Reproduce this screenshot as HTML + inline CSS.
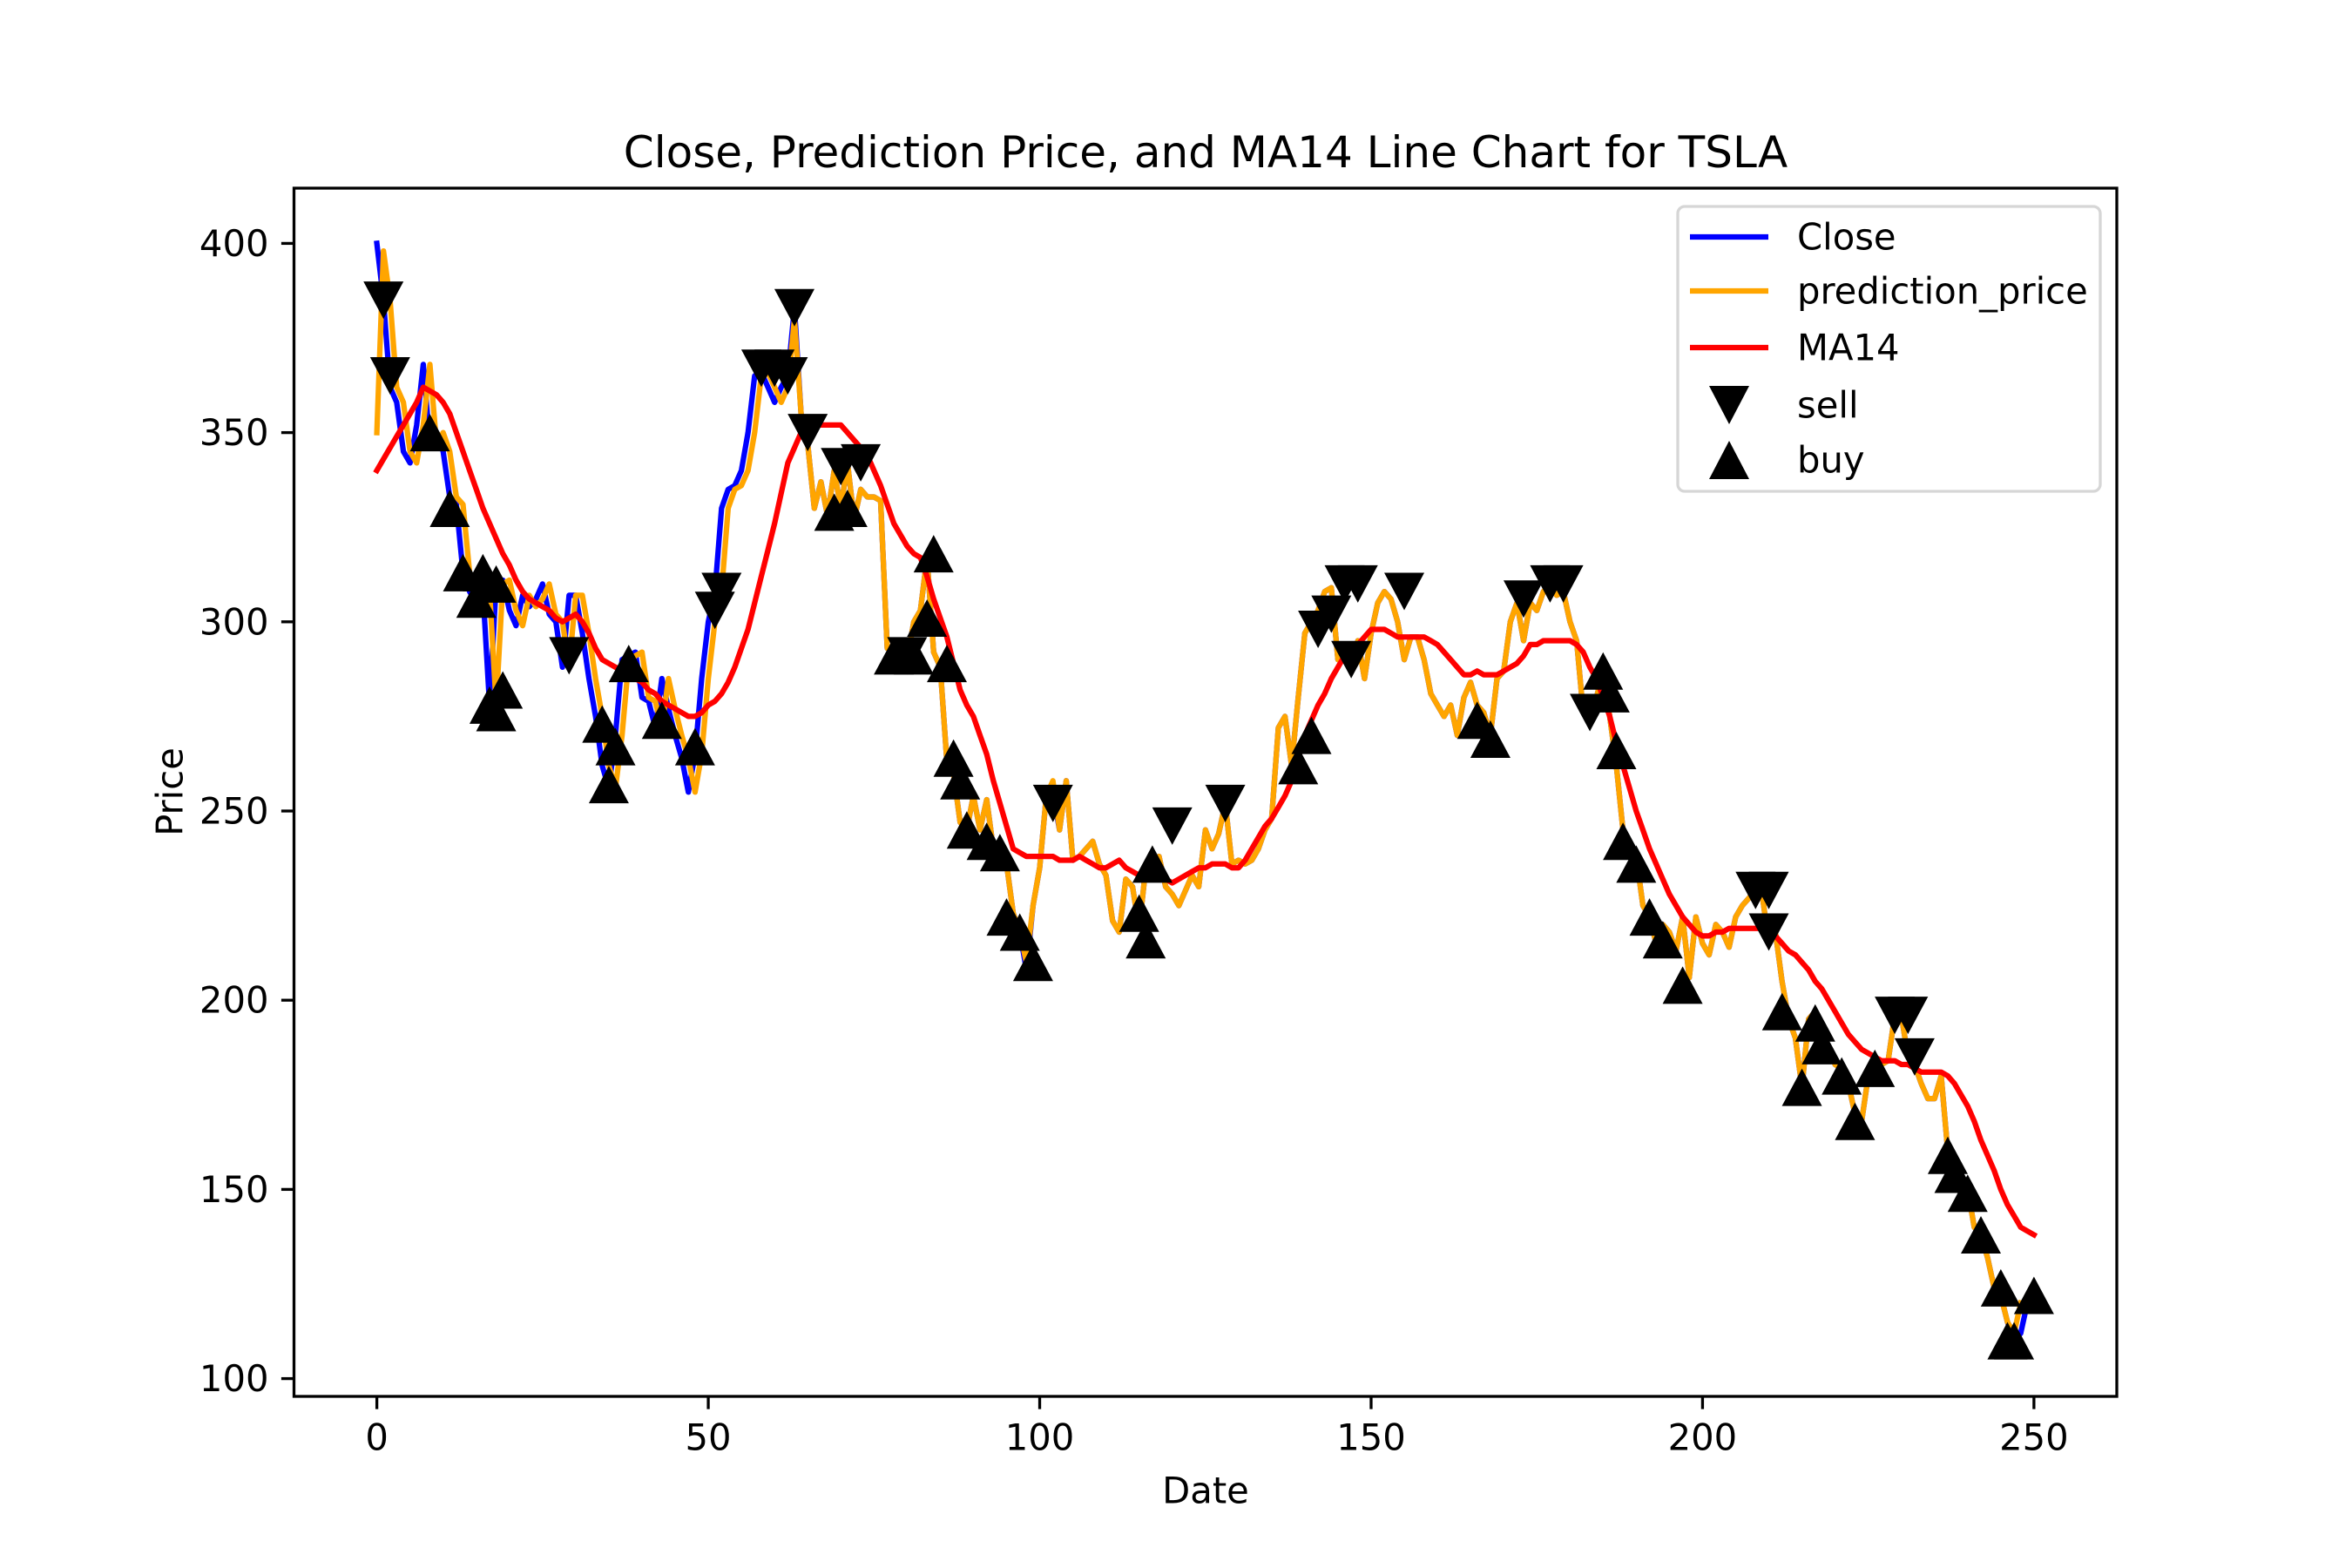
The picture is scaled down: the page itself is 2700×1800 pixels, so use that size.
<!DOCTYPE html>
<html><head><meta charset="utf-8"><style>
html,body{margin:0;padding:0;background:#fff;}
svg{display:block;font-family:"DejaVu Sans","Liberation Sans",sans-serif;}
</style></head><body>
<svg id="chart" width="2700" height="1800" viewBox="0 0 2700 1800">
<rect width="2700" height="1800" fill="#fff"/>
<text x="1384" y="175" font-size="50" text-anchor="middle" dominant-baseline="central">Close, Prediction Price, and MA14 Line Chart for TSLA</text>
<text x="1384" y="1711" font-size="41.7" text-anchor="middle" dominant-baseline="central">Date</text>
<text x="195" y="909" font-size="41.7" text-anchor="middle" dominant-baseline="central" transform="rotate(-90 195 909)">Price</text>
<g id="plot"></g>
<g id="legend">
<rect x="1926" y="237" width="485" height="327" rx="8" fill="#fff" fill-opacity="0.8" stroke="#d6d6d6" stroke-width="3.3"/>
<line x1="1940" y1="272" x2="2030" y2="272" stroke="#0000ff" stroke-width="6.25"/>
<text x="2063" y="272" font-size="41.7" dominant-baseline="central">Close</text>
<line x1="1940" y1="334" x2="2030" y2="334" stroke="#ffa500" stroke-width="6.25"/>
<text x="2063" y="334" font-size="41.7" dominant-baseline="central">prediction_price</text>
<line x1="1940" y1="399" x2="2030" y2="399" stroke="#ff0000" stroke-width="6.25"/>
<text x="2063" y="399" font-size="41.7" dominant-baseline="central">MA14</text>
<polygon points="1962,443 2008,443 1985,487" fill="#000"/>
<text x="2063" y="465" font-size="41.7" dominant-baseline="central">sell</text>
<polygon points="1962,550 2008,550 1985,506" fill="#000"/>
<text x="2063" y="528" font-size="41.7" dominant-baseline="central">buy</text>
</g>
</svg>
<script>
const closePrices = [400,385,362,358,345,342,352,368,347,350,345,333,331,313,308,305,308,278,310,311,303,299,307,304,306,310,302,300,288,307,307,297,285,275,262,256,270,290,291,292,280,279,272,285,277,270,264,255,265,285,300,308,330,335,336,340,350,365,366,362,358,362,365,383,355,347,330,337,328,340,330,342,327,335,333,333,332,293,293,292,290,300,303,317,292,288,263,260,247,245,254,245,253,240,236,236,223,218,208,225,235,254,255,245,258,237,238,240,242,236,233,221,218,232,230,219,235,237,238,230,228,225,229,233,230,245,240,244,252,236,237,236,237,240,245,248,272,275,262,280,297,300,303,308,309,290,293,287,295,285,297,305,308,306,300,290,296,296,290,281,278,275,278,270,280,284,278,276,270,285,287,300,305,295,305,303,308,310,307,308,300,295,276,276,280,287,275,262,245,240,238,225,222,215,220,218,213,222,206,222,215,212,220,218,214,222,225,227,229,228,215,218,205,195,190,177,195,197,190,188,183,182,178,170,168,180,183,183,184,196,196,185,183,178,174,174,180,160,155,150,150,140,138,132,124,122,115,110,112,120,122];
const predictionPrices = [350,398,385,362,358,345,342,352,368,347,350,345,333,331,313,308,305,308,278,310,311,303,299,307,304,306,310,302,300,288,307,307,297,285,275,262,256,270,290,291,292,280,279,272,285,277,270,264,255,265,285,300,308,330,335,336,340,350,365,366,362,358,362,380,355,347,330,337,328,340,330,342,327,335,333,333,332,293,293,292,290,300,303,317,292,288,263,260,247,245,254,245,253,240,236,236,223,218,210,225,235,254,258,245,258,237,238,240,242,236,233,221,218,232,230,219,235,237,238,230,228,225,229,233,230,245,240,244,252,236,237,236,237,240,245,248,272,275,262,280,297,300,303,308,309,290,293,287,295,285,297,305,308,306,300,290,296,296,290,281,278,275,278,270,280,284,278,276,270,285,287,300,305,295,305,303,308,310,307,308,300,295,276,276,280,287,275,262,245,240,238,225,222,215,220,218,213,222,206,222,215,212,220,218,214,222,225,227,229,228,215,218,205,195,190,177,195,197,190,188,183,182,178,170,168,180,183,183,184,196,196,185,183,178,174,174,180,160,155,150,150,140,138,132,124,122,115,112,120];
const ma14 = [340,343,346,349,352,355,358,362,361,360,358,355,350,345,340,335,330,326,322,318,315,311,308,306,305,304,303,301,300,301,302,300,297,293,290,289,288,287,286,285,284,282,281,279,278,277,276,275,275,276,278,279,281,284,288,293,298,305,312,319,326,334,342,346,350,351,352,352,352,352,352,350,348,346,344,340,336,331,326,323,320,318,317,312,306,301,296,289,282,278,275,270,265,258,252,246,240,239,238,238,238,238,238,237,237,237,238,237,236,235,235,236,237,235,234,233,232,232,233,232,231,232,233,234,235,235,236,236,236,235,235,237,240,243,246,248,251,254,258,264,270,274,278,281,285,288,291,292,294,296,298,298,298,297,296,296,296,296,296,295,294,292,290,288,286,286,287,286,286,286,287,288,289,291,294,294,295,295,295,295,295,294,292,288,285,280,275,268,262,256,250,245,240,236,232,228,225,222,220,218,217,217,218,218,219,219,219,219,219,219,219,217,215,213,212,210,208,205,203,200,197,194,191,189,187,186,185,184,184,184,183,183,182,181,181,181,181,180,178,175,172,168,163,159,155,150,146,143,140,139,138];
const sellIdx = [1,2,29,51,52,58,60,62,63,65,70,73,80,102,120,128,142,144,146,147,148,155,173,177,179,183,208,210,210,229,231,232];
const sellVals = [385,365,291,303,308,367,367,365,383,350,341,342,291,252,246,252,298,302,310,290,310,308,306,310,310,276,229,229,218,196,196,185];
const buyIdx = [8,11,13,15,16,17,18,18,19,34,35,36,38,43,48,69,71,78,81,83,84,86,87,88,89,92,94,95,97,99,115,116,117,139,141,166,168,185,186,187,188,190,192,194,197,212,215,217,218,221,223,226,237,238,240,242,245,246,247,250];
const buyVals = [350,330,313,306,313,278,276,310,282,273,257,267,289,274,267,329,330,291,291,301,318,289,264,258,245,242,239,222,218,210,223,216,236,262,270,274,269,287,281,266,242,236,222,216,204,197,177,194,188,180,168,182,159,154,149,138,124,110,110,122];
const xTicks = [0,50,100,150,200,250];
const yTicks = [100,150,200,250,300,350,400];

const AX = {left:337.5, right:2430, top:216, bottom:1603};
const XMIN = -12.5, XMAX = 262.5, YMIN = 95.3, YMAX = 414.6;
function xs(v){ return AX.left + (v - XMIN) / (XMAX - XMIN) * (AX.right - AX.left); }
function ys(v){ return AX.bottom - (v - YMIN) / (YMAX - YMIN) * (AX.bottom - AX.top); }
const NS = 'http://www.w3.org/2000/svg';
const plot = document.getElementById('plot');
function mk(tag, attrs, parent){ const e = document.createElementNS(NS, tag); for (const k in attrs) e.setAttribute(k, attrs[k]); (parent||plot).appendChild(e); return e; }

const clip = mk('clipPath', {id:'clipAx'});
mk('rect', {x:AX.left, y:AX.top, width:AX.right-AX.left, height:AX.bottom-AX.top}, clip);
const g = mk('g', {'clip-path':'url(#clipAx)'});



function line(arr, color, name){
  const pts = arr.map((v,i)=> xs(i).toFixed(1)+','+ys(v).toFixed(1)).join(' ');
  const p = mk('polyline', {points:pts, fill:'none', stroke:color, 'stroke-width':6.25, 'stroke-linejoin':'round', 'stroke-linecap':'square'}, g);
  
  
}
line(closePrices, '#0000ff', 'close-line');
line(predictionPrices, '#ffa500', 'prediction-price-line');
line(ma14, '#ff0000', 'ma14-line');

const H = 23, HH = 21.5;
sellIdx.forEach((idx, k)=>{
  const cx = xs(idx), cy = ys(sellVals[k]);
  const m = mk('polygon', {points:`${cx-H},${cy-HH} ${cx+H},${cy-HH} ${cx},${cy+HH}`, fill:'#000'}, g);
  
  
});
buyIdx.forEach((idx, k)=>{
  const cx = xs(idx), cy = ys(buyVals[k]);
  const m = mk('polygon', {points:`${cx-H},${cy+HH} ${cx+H},${cy+HH} ${cx},${cy-HH}`, fill:'#000'}, g);
  
  
});

const frame = mk('rect', {x:AX.left, y:AX.top, width:AX.right-AX.left, height:AX.bottom-AX.top, fill:'none', stroke:'#000', 'stroke-width':3.3});



xTicks.forEach(t=>{
  const x = xs(t);
  const tk = mk('line', {x1:x, y1:AX.bottom, x2:x, y2:AX.bottom+14.6, stroke:'#000', 'stroke-width':3.3});
  
  
  const tx = mk('text', {x:x, y:1650, 'font-size':41.7, 'text-anchor':'middle', 'dominant-baseline':'central'});
  tx.textContent = t;
  
  
});
yTicks.forEach(t=>{
  const y = ys(t);
  const tk = mk('line', {x1:AX.left-14.6, y1:y, x2:AX.left, y2:y, stroke:'#000', 'stroke-width':3.3});
  
  
  const tx = mk('text', {x:AX.left-29, y:y, 'font-size':41.7, 'text-anchor':'end', 'dominant-baseline':'central'});
  tx.textContent = t;
  
  
});
</script>
</body></html>
